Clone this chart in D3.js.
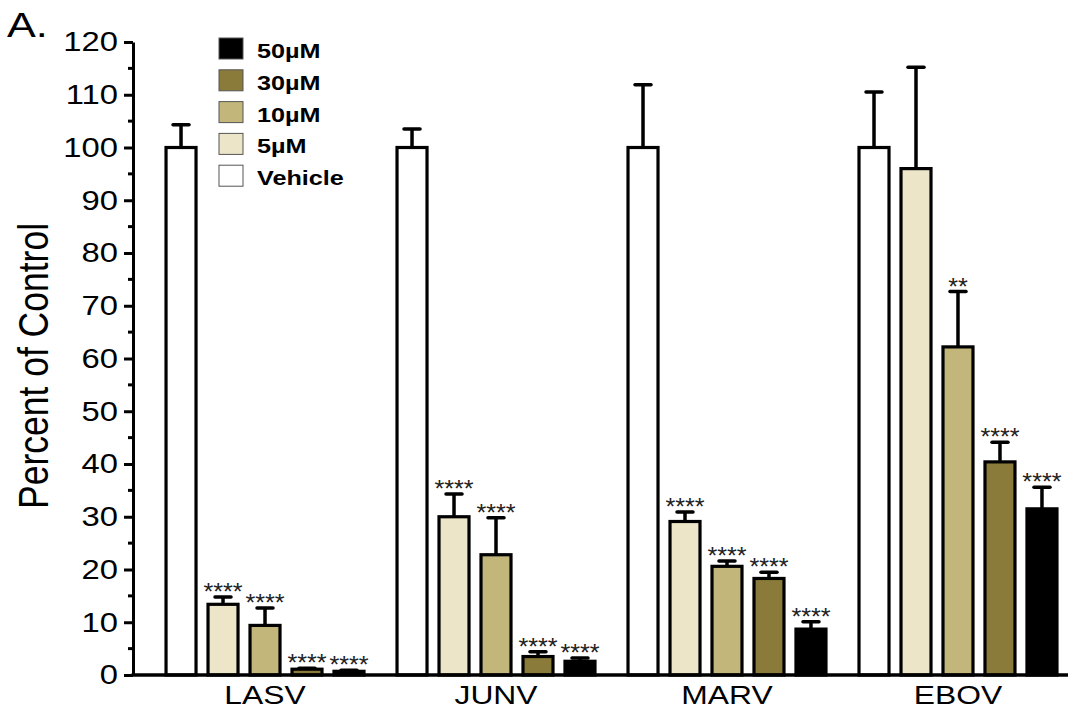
<!DOCTYPE html>
<html>
<head>
<meta charset="utf-8">
<script src="https://cdn.jsdelivr.net/npm/d3@7"></script>
<style>
  html, body { margin: 0; padding: 0; background: #fff; }
  svg { display: block; font-family: "Liberation Sans", Arial, sans-serif; }
</style>
</head>
<body>
<svg id="chart" width="1078" height="725"></svg>
<script>
// ---- Data ----
const categories = ["LASV", "JUNV", "MARV", "EBOV"];
const seriesNames = ["Vehicle", "5\u00b5M", "10\u00b5M", "30\u00b5M", "50\u00b5M"];
const legendOrder = ["50\u00b5M", "30\u00b5M", "10\u00b5M", "5\u00b5M", "Vehicle"];
const seriesColors = ["#ffffff", "#ece5c8", "#c2b67b", "#8b7b3a", "#000000"];

const vehicleMean = [100, 100, 100, 100];
const vehicleErr  = [4.3, 3.5, 11.9, 10.5];
const m5Mean  = [13.4, 30.0, 29.1, 96.0];
const m5Err   = [1.4, 4.3, 1.8, 19.2];
const m10Mean = [9.4, 22.8, 20.6, 62.2];
const m10Err  = [3.3, 7.0, 1.0, 10.5];
const m30Mean = [1.1, 3.5, 18.3, 40.4];
const m30Err  = [0.2, 0.9, 1.2, 3.7];
const m50Mean = [0.7, 2.6, 8.7, 31.5];
const m50Err  = [0.2, 0.6, 1.4, 4.1];

const vehicleStars = ["", "", "", ""];
const m5Stars  = ["****", "****", "****", ""];
const m10Stars = ["****", "****", "****", "**"];
const m30Stars = ["****", "****", "****", "****"];
const m50Stars = ["****", "****", "****", "****"];

const yTicks = [0, 10, 20, 30, 40, 50, 60, 70, 80, 90, 100, 110, 120];
const yMinorTicks = [5, 15, 25, 35, 45, 55, 65, 75, 85, 95, 105, 115];

const means = [vehicleMean, m5Mean, m10Mean, m30Mean, m50Mean];
const errs = [vehicleErr, m5Err, m10Err, m30Err, m50Err];
const stars = [vehicleStars, m5Stars, m10Stars, m30Stars, m50Stars];

const rows = [];
categories.forEach((c, ci) => {
  seriesNames.forEach((s, si) => {
    rows.push({ cat: c, series: s, si: si, mean: means[si][ci], err: errs[si][ci], star: stars[si][ci] });
  });
});

// ---- Layout ----
const svg = d3.select("#chart");
const X0 = 133, X1 = 1090, Y0 = 675, Y1 = 42;
const SX = 1.2; // horizontal text stretch of the original figure

const x = d3.scaleBand().domain(categories).range([X0, X1]).paddingInner(0.143).paddingOuter(0.143);
const xs = d3.scaleBand().domain(seriesNames).range([0, x.bandwidth()]).paddingInner(0.2857).paddingOuter(0);
const y = d3.scaleLinear().domain([0, 120]).range([Y0, Y1]);
const color = d3.scaleOrdinal().domain(seriesNames).range(seriesColors);

function stretchText(sel, tx, ty, sx) {
  sel.attr("transform", `translate(${tx},${ty}) scale(${sx || SX},1)`);
}

// Bars
const g = svg.append("g");
const groups = g.selectAll("g.bar").data(rows).join("g").attr("class", "bar")
  .attr("transform", d => `translate(${x(d.cat) + xs(d.series)},0)`);

// Error bars (upper only)
groups.append("line")
  .attr("x1", xs.bandwidth() / 2).attr("x2", xs.bandwidth() / 2)
  .attr("y1", d => y(d.mean)).attr("y2", d => y(d.mean + d.err))
  .attr("stroke", "#000").attr("stroke-width", 3.5);
groups.append("line")
  .attr("x1", xs.bandwidth() / 2 - 8).attr("x2", xs.bandwidth() / 2 + 8)
  .attr("y1", d => y(d.mean + d.err)).attr("y2", d => y(d.mean + d.err))
  .attr("stroke", "#000").attr("stroke-width", 3.5).attr("stroke-linecap", "round");

groups.append("rect")
  .attr("x", 0).attr("width", xs.bandwidth())
  .attr("y", d => y(d.mean)).attr("height", d => Y0 - y(d.mean))
  .attr("fill", d => color(d.series))
  .attr("stroke", "#000").attr("stroke-width", 3.2);

// Significance stars
groups.filter(d => d.star).append("text")
  .text(d => d.star)
  .attr("text-anchor", "middle")
  .attr("font-size", 24)
  .attr("fill", "#222")
  .each(function (d) {
    stretchText(d3.select(this), xs.bandwidth() / 2, y(d.mean + d.err) + 3, 1.05);
  });

// Y axis
const yAxis = svg.append("g").attr("transform", `translate(${X0},0)`)
  .call(d3.axisLeft(y).tickValues(yTicks).tickSize(9).tickPadding(6).tickSizeOuter(0));
yAxis.select(".domain").attr("stroke-width", 3);
yAxis.selectAll(".tick line").attr("stroke-width", 3);
yAxis.selectAll(".tick text")
  .attr("font-size", 28)
  .attr("font-family", "'Liberation Sans', Arial, sans-serif")
  .attr("fill", "#000")
  .attr("x", -15 / 1.17)
  .attr("transform", `scale(1.17,1)`);

svg.append("g").attr("transform", `translate(${X0},0)`)
  .selectAll("line").data(yMinorTicks).join("line")
  .attr("x1", -5).attr("x2", 0)
  .attr("y1", d => y(d)).attr("y2", d => y(d))
  .attr("stroke", "#000").attr("stroke-width", 3);

// X axis baseline
svg.append("line")
  .attr("x1", X0 - 1.5).attr("x2", 1068)
  .attr("y1", Y0).attr("y2", Y0)
  .attr("stroke", "#000").attr("stroke-width", 3.5);

// Category labels
svg.append("g").selectAll("text").data(categories).join("text")
  .text(d => d)
  .attr("text-anchor", "middle")
  .attr("font-size", 26.5)
  .attr("fill", "#000")
  .each(function (d) { stretchText(d3.select(this), x(d) + x.bandwidth() / 2, 704); });

// Y label
svg.append("text")
  .text("Percent of Control")
  .attr("text-anchor", "middle")
  .attr("font-size", 35.5)
  .attr("fill", "#000")
  .attr("transform", `translate(48,366) scale(${SX},1) rotate(-90)`);

// Panel label
svg.append("text").text("A.")
  .attr("font-size", 36)
  .attr("fill", "#000")
  .call(s => stretchText(s, 7, 37));

// Legend
const legend = svg.append("g");
const lg = legend.selectAll("g").data(legendOrder).join("g")
  .attr("transform", (d, i) => `translate(219,${38 + i * 31.8})`);
lg.append("rect")
  .attr("width", 24).attr("height", 21)
  .attr("fill", d => color(d))
  .attr("stroke", "#555").attr("stroke-width", 1);
lg.append("text")
  .text(d => d)
  .attr("font-size", 21)
  .attr("font-weight", "bold")
  .attr("fill", "#000")
  .each(function () { stretchText(d3.select(this), 38, 20); });
</script>
</body>
</html>
